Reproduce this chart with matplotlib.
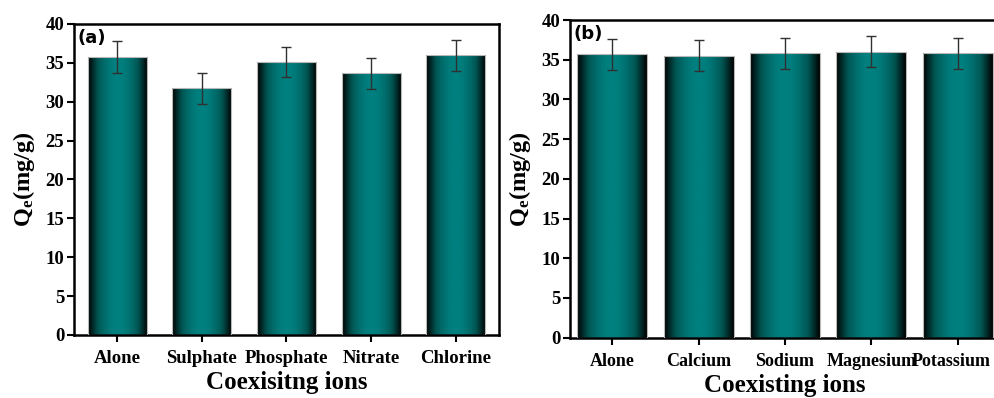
import numpy as np
import matplotlib
matplotlib.use("Agg")
import matplotlib.pyplot as plt
from matplotlib.colors import LinearSegmentedColormap
from matplotlib.transforms import ScaledTranslation

plt.rcParams['mathtext.fontset'] = 'custom'
plt.rcParams['mathtext.rm'] = 'Liberation Serif:bold'
plt.rcParams['mathtext.it'] = 'Liberation Serif:bold'
plt.rcParams['mathtext.bf'] = 'Liberation Serif:bold'

cats_a = ["Alone", "Sulphate", "Phosphate", "Nitrate", "Chlorine"]
vals_a = [35.75, 31.75, 35.1, 33.65, 35.95]
err_a = [2.0, 2.0, 1.95, 1.95, 2.0]

cats_b = ["Alone", "Calcium", "Sodium", "Magnesium", "Potassium"]
vals_b = [35.7, 35.5, 35.8, 36.0, 35.8]
err_b = [1.95, 1.95, 1.95, 1.95, 1.95]

yticks = [0, 5, 10, 15, 20, 25, 30, 35, 40]

serif = 'Liberation Serif'
cmap = LinearSegmentedColormap.from_list('tg', ['#000000', '#005552', '#008080'])
xs = np.linspace(0, 1, 256)
grad = (np.sin(np.pi * xs) ** 1.0)[None, :]

fig = plt.figure(figsize=(9.94, 3.98), dpi=100)
ax_a = fig.add_axes([0.0744, 0.1583, 0.4276, 0.7814])
ax_b = fig.add_axes([0.5734, 0.1515, 0.4326, 0.7982])

def draw(ax, cats, vals, errs, width, xlim, label, xlabel, show_right, xfs):
    x = np.arange(len(cats))
    bars = ax.bar(x, vals, width=width, color='none', edgecolor='#b8b8b8', linewidth=0.8, zorder=3)
    for b in bars:
        x0, y0 = b.get_x(), b.get_y()
        w, h = b.get_width(), b.get_height()
        im = ax.imshow(grad, cmap=cmap, aspect='auto', extent=[x0, x0 + w, y0, y0 + h],
                       zorder=2, interpolation='bilinear')
        im.set_clip_path(b)
    ax.errorbar(x, vals, yerr=errs, fmt='none', ecolor='#303030', elinewidth=1.0,
                capsize=3.5, capthick=1.0, zorder=4)
    ax.set_xlim(*xlim)
    ax.set_ylim(0, 40)
    ax.set_yticks(yticks)
    ax.set_yticklabels([str(t) for t in yticks], fontfamily=serif, fontweight='bold', fontsize=13.5)
    ax.set_xticks(x)
    ax.set_xticklabels(cats, fontfamily=serif, fontweight='bold', fontsize=xfs)
    ax.tick_params(axis='both', direction='out', length=5, width=1.5, pad=2)
    ax.tick_params(axis='x', pad=6)
    for s in ax.spines.values():
        s.set_linewidth(1.8)
    ax.spines['right'].set_visible(show_right)
    ax.set_ylabel(r'Q$_{\mathrm{e}}$(mg/g)', fontfamily=serif, fontweight='bold', fontsize=17.5, labelpad=6)
    ax.set_xlabel(xlabel, fontfamily=serif, fontweight='bold', fontsize=18, labelpad=3)
    ax.text(0.008, 0.985, label, transform=ax.transAxes, ha='left', va='top',
            fontfamily='DejaVu Sans', fontweight='bold', fontsize=13)

draw(ax_a, cats_a, vals_a, err_a, 0.70, (-0.51, 4.51), '(a)', 'Coexisitng ions', True, 13.5)
draw(ax_b, cats_b, vals_b, err_b, 0.81, (-0.49, 4.49), '(b)', 'Coexisting ions', False, 13)

last = ax_b.get_xticklabels()[-1]
last.set_transform(last.get_transform() + ScaledTranslation(-7 / 100, 0, fig.dpi_scale_trans))

fig.savefig('out.png', dpi=100)
